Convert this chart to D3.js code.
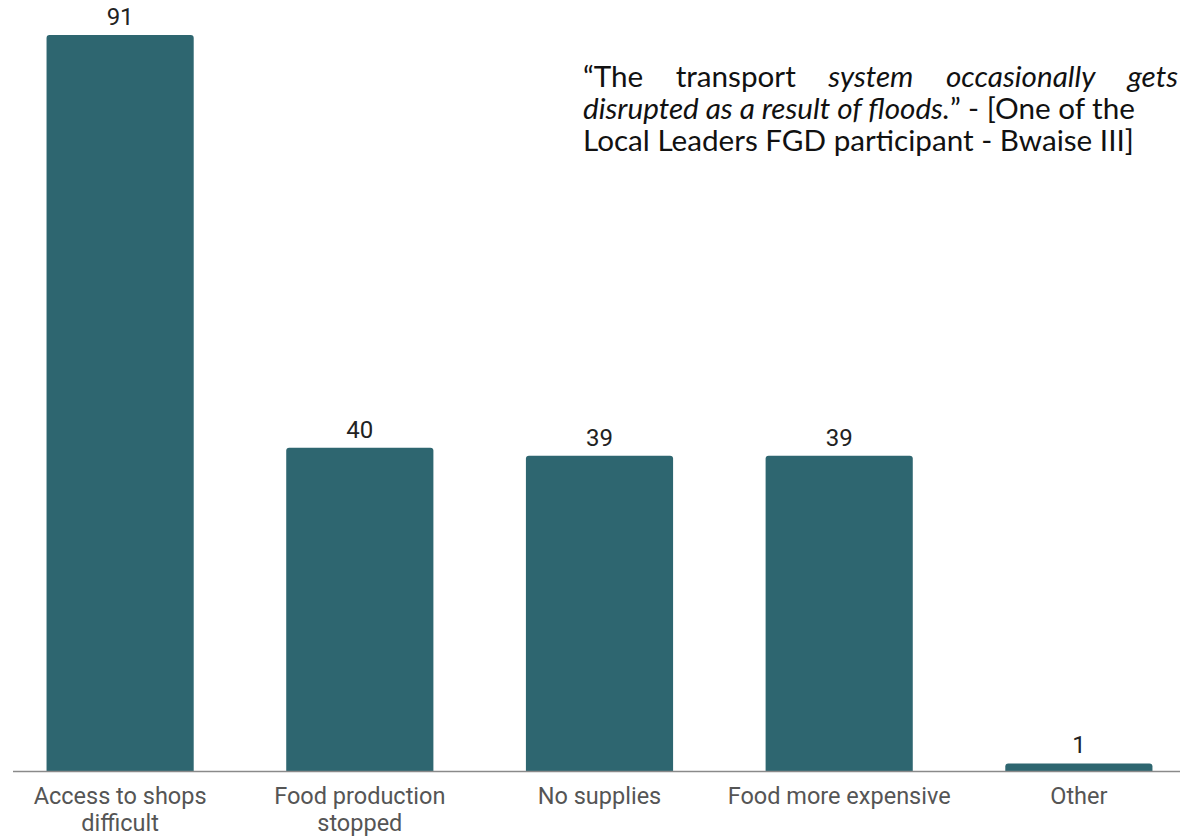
<!DOCTYPE html>
<html>
<head>
<meta charset="utf-8">
<script src="https://cdn.jsdelivr.net/npm/d3@7"></script>
<style>
  body { margin: 0; background: #fff; }
  svg { display: block; }
</style>
</head>
<body>
<svg id="chart"></svg>
<script>
var categories = ["Access to shops difficult", "Food production stopped", "No supplies", "Food more expensive", "Other"];
var labelLines = [["Access to shops", "difficult"], ["Food production", "stopped"], ["No supplies"], ["Food more expensive"], ["Other"]];
var values = [91, 40, 39, 39, 1];

var quoteLines = [
    [{t: "\u201CThe", i: false}, {t: "transport", i: false}, {t: "system", i: true}, {t: "occasionally", i: true}, {t: "gets", i: true}],
    [{t: "disrupted as a result of floods.", i: true}, {t: "\u201D - [One of the", i: false}],
    [{t: "Local Leaders FGD participant - Bwaise III]", i: false}]
];

var width = 1180, height = 838;
var baseline = 771.5;

var svg = d3.select("#chart")
    .attr("width", width)
    .attr("height", height);

var xScale = d3.scaleBand()
    .domain(categories)
    .range([1, 1198])
    .paddingInner(0.386)
    .paddingOuter(0.19);

var yScale = d3.scaleLinear()
    .domain([0, 91])
    .range([baseline, 35]);

// bars with slightly rounded tops
function barPath(d) {
    var x0 = xScale(d.c), w = xScale.bandwidth();
    var y0 = yScale(d.v), r = Math.min(3, (baseline - y0) / 2);
    return "M" + x0 + "," + baseline +
        "V" + (y0 + r) +
        "Q" + x0 + "," + y0 + " " + (x0 + r) + "," + y0 +
        "H" + (x0 + w - r) +
        "Q" + (x0 + w) + "," + y0 + " " + (x0 + w) + "," + (y0 + r) +
        "V" + baseline + "Z";
}

var data = categories.map(function(c, i){ return {c: c, v: values[i], lines: labelLines[i]}; });

svg.selectAll("path.bar")
    .data(data)
    .enter().append("path")
    .attr("class", "bar")
    .attr("fill", "#2e6670")
    .attr("d", barPath);

// axis line
svg.append("line")
    .attr("x1", 13).attr("x2", 1180)
    .attr("y1", baseline).attr("y2", baseline)
    .attr("stroke", "#8a8a8a")
    .attr("stroke-width", 1.5);

// value labels
svg.selectAll("text.val")
    .data(data)
    .enter().append("text")
    .attr("class", "val")
    .attr("x", function(d){ return xScale(d.c) + xScale.bandwidth() / 2; })
    .attr("y", function(d){ return yScale(d.v) - 10; })
    .attr("text-anchor", "middle")
    .attr("font-family", "Roboto, sans-serif")
    .attr("font-size", 24)
    .attr("fill", "#222")
    .text(function(d){ return d.v; });

// category labels
var cat = svg.selectAll("text.cat")
    .data(data)
    .enter().append("text")
    .attr("class", "cat")
    .attr("text-anchor", "middle")
    .attr("font-family", "Roboto, sans-serif")
    .attr("font-size", 23.5)
    .attr("fill", "#555");

cat.selectAll("tspan")
    .data(function(d){ return d.lines.map(function(l){ return {l: l, x: xScale(d.c) + xScale.bandwidth() / 2}; }); })
    .enter().append("tspan")
    .attr("x", function(d){ return d.x; })
    .attr("y", function(d, i){ return 804 + i * 27; })
    .text(function(d){ return d.l; });

// quote
var qx = 583, qRight = 1178;
var qBase = [87, 119, 151];

// size the quote font so the last line spans about 551px, as in the source
var probe = svg.append("text")
    .attr("font-family", "Lato, 'Open Sans', sans-serif")
    .attr("font-size", 26)
    .text(quoteLines[2][0].t);
var qSize = 26 * 551 / probe.node().getComputedTextLength();
probe.remove();

quoteLines.forEach(function(line, li) {
    var t = svg.append("text")
        .attr("y", qBase[li])
        .attr("font-family", "Lato, 'Open Sans', sans-serif")
        .attr("font-size", qSize)
        .attr("fill", "#111");
    if (li === 0) {
        // justified line: measure words then spread gaps
        var spans = line.map(function(w){
            return t.append("tspan")
                .attr("font-style", w.i ? "italic" : "normal")
                .text(w.t);
        });
        var widths = spans.map(function(s){ return s.node().getComputedTextLength(); });
        var total = d3.sum(widths);
        var gap = (qRight - qx - total) / (spans.length - 1);
        var cx = qx;
        spans.forEach(function(s, i){
            s.attr("x", cx);
            cx += widths[i] + gap;
        });
    } else {
        t.attr("x", qx);
        line.forEach(function(w){
            t.append("tspan")
                .attr("font-style", w.i ? "italic" : "normal")
                .text(w.t);
        });
    }
});
</script>
</body>
</html>
